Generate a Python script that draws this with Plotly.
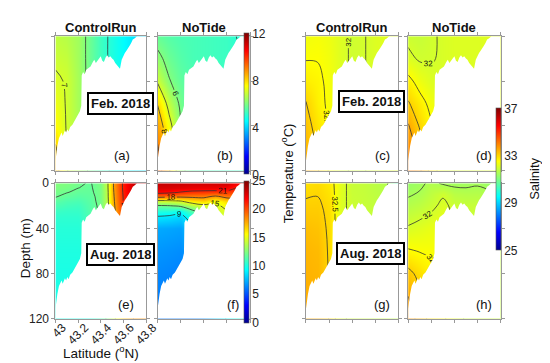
import numpy as np
import plotly.graph_objects as go

W, H = 550, 363
FONT = "Liberation Sans, Arial, sans-serif"

# ---------------- data ----------------
LAT = [43.0, 43.1, 43.2, 43.3, 43.4, 43.5, 43.6, 43.7, 43.8]
LAT_E = [43.0, 43.1, 43.2, 43.3, 43.4, 43.45, 43.5, 43.6, 43.7, 43.8]
DEPTH_C = [0, 20, 40, 60, 80, 100, 120]
DEPTH_F = [0, 4, 8, 12, 16, 20, 25, 30, 40, 60, 80, 120]
DEPTH_H = [0, 10, 20, 40, 60, 80, 100, 120]

LAT_TICKS = [43.0, 43.2, 43.4, 43.6, 43.8]
LAT_TICKTEXT = ["43", "43.2", "43.4", "43.6", "43.8"]
DEPTH_TICKS = [0, 40, 80, 120]
LAT_RANGE = [43.0, 43.8]
DEPTH_RANGE = [0, 120]

# bathymetry along the transect (latitude, bottom depth in m)
BATHY_LAT = [43.0, 43.0085, 43.017, 43.031, 43.045, 43.054, 43.064, 43.074, 43.084, 43.094,
             43.105, 43.116, 43.13, 43.15, 43.173, 43.196, 43.216, 43.228, 43.232, 43.244,
             43.258, 43.272, 43.287, 43.31, 43.33, 43.343, 43.357, 43.37, 43.385, 43.4,
             43.414, 43.428, 43.443, 43.457, 43.471, 43.485, 43.5, 43.513, 43.528, 43.542,
             43.556, 43.57, 43.585, 43.6, 43.613, 43.627, 43.641, 43.655, 43.669, 43.683,
             43.698, 43.712, 43.72]
BATHY_DEPTH = [111, 103, 98, 91, 88, 86, 89, 87, 84, 86,
               83, 85, 81, 79, 75, 71, 67, 62, 35, 32,
               34, 30, 29, 27, 23, 21, 24, 22, 20, 18,
               22, 23, 19, 17, 19, 18, 20, 21, 24, 26,
               27, 29, 21, 17, 15, 13, 10, 8.5, 6, 3,
               2, 0.5, 0]

# profiles: one list per latitude (values at the depth levels)
TEMP_FEB_CTRL = [   # (a) LAT x DEPTH_C
    [6.75, 6.9, 7.1, 7.3, 7.55, 8.1, 8.4],
    [6.65, 6.8, 6.95, 6.95, 6.95, 6.98, 7.05],
    [6.4, 6.4, 6.45, 6.45, 6.5, 6.5, 6.5],
    [5.8, 5.8, 5.8, 5.85, 5.9, 5.9, 5.9],
    [5.25, 5.25, 5.3, 5.3, 5.3, 5.3, 5.3],
    [4.85, 4.85, 4.9, 4.9, 4.9, 4.9, 4.9],
    [4.5, 4.5, 4.55, 4.55, 4.55, 4.55, 4.55],
    [4.2, 4.25, 4.3, 4.3, 4.3, 4.3, 4.3],
    [4.0, 4.05, 4.1, 4.1, 4.1, 4.1, 4.1],
]
TEMP_FEB_NOTIDE = [  # (b)
    [5.7, 6.2, 6.9, 7.95, 8.6, 9.1, 9.5],
    [5.5, 5.75, 6.05, 6.7, 7.3, 7.8, 8.1],
    [5.4, 5.5, 5.65, 5.85, 6.05, 6.2, 6.3],
    [5.35, 5.35, 5.4, 5.45, 5.5, 5.5, 5.5],
    [5.3, 5.3, 5.3, 5.3, 5.3, 5.3, 5.3],
    [5.25, 5.25, 5.25, 5.25, 5.25, 5.25, 5.25],
    [5.2, 5.2, 5.2, 5.2, 5.2, 5.2, 5.2],
    [4.95, 5.1, 5.15, 5.15, 5.15, 5.15, 5.15],
    [4.8, 5.0, 5.1, 5.1, 5.1, 5.1, 5.1],
]
SAL_FEB_CTRL = [    # (c)
    [32.35, 32.48, 32.7, 33.03, 33.2, 33.35, 33.5],
    [32.4, 32.48, 32.6, 32.65, 32.8, 32.95, 33.05],
    [32.3, 32.35, 32.4, 32.42, 32.45, 32.45, 32.45],
    [32.1, 32.1, 32.1, 32.1, 32.1, 32.1, 32.1],
    [31.95, 31.95, 31.95, 31.95, 31.95, 31.95, 31.95],
    [31.98, 31.98, 31.98, 31.98, 31.98, 31.98, 31.98],
    [32.1, 32.1, 32.1, 32.1, 32.1, 32.1, 32.1],
    [32.15, 32.15, 32.15, 32.15, 32.15, 32.15, 32.15],
    [32.2, 32.2, 32.2, 32.2, 32.2, 32.2, 32.2],
]
SAL_FEB_NOTIDE = [  # (d)
    [31.9, 32.1, 32.65, 33.05, 33.55, 33.85, 34.1],
    [31.85, 31.95, 32.3, 32.7, 32.95, 33.3, 33.6],
    [31.95, 31.97, 32.1, 32.35, 32.55, 32.7, 32.8],
    [32.05, 32.05, 32.1, 32.15, 32.2, 32.2, 32.2],
    [32.1, 32.1, 32.1, 32.1, 32.1, 32.1, 32.1],
    [32.1, 32.1, 32.1, 32.1, 32.1, 32.1, 32.1],
    [32.1, 32.1, 32.1, 32.1, 32.1, 32.1, 32.1],
    [32.15, 32.15, 32.15, 32.15, 32.15, 32.15, 32.15],
    [32.2, 32.2, 32.2, 32.2, 32.2, 32.2, 32.2],
]
TEMP_AUG_CTRL = [   # (e) LAT_E x DEPTH_F
    [12.6, 12.45, 12.25, 12.05, 11.6, 11.2, 10.8, 10.5, 10.3, 10.1, 10.0, 9.9],
    [12.5, 12.3, 12.05, 11.7, 11.3, 11.0, 10.7, 10.5, 10.3, 10.1, 10.0, 9.9],
    [12.2, 12.02, 11.8, 11.5, 11.2, 10.9, 10.7, 10.5, 10.3, 10.1, 10.0, 9.9],
    [11.9, 11.85, 11.8, 11.7, 11.6, 11.5, 11.4, 11.3, 11.0, 10.5, 10.2, 10.0],
    [12.4, 12.4, 12.35, 12.3, 12.3, 12.25, 12.2, 12.1, 12.05, 11.8, 11.5, 11.0],
    [14.0, 14.0, 13.9, 13.9, 13.8, 13.8, 13.7, 13.6, 13.5, 13.0, 12.5, 12.1],
    [17.5, 17.5, 17.4, 17.3, 17.2, 17.1, 17.0, 16.8, 16.5, 16.1, 15.2, 14.1],
    [21.3, 21.3, 21.2, 21.1, 21.05, 20.8, 20.5, 20.2, 20.1, 19.1, 18.1, 17.1],
    [23.3, 23.2, 23.1, 22.8, 22.5, 22.2, 22.1, 21.5, 21.2, 20.1, 19.1, 18.1],
    [23.5, 23.4, 23.3, 23.1, 22.8, 22.5, 22.3, 21.8, 21.4, 20.3, 19.3, 18.3],
]
TEMP_AUG_NOTIDE = [  # (f) LAT x DEPTH_F
    [23.3, 22.8, 21.8, 18.5, 14.3, 11.8, 10.2, 8.8, 7.3, 6.8, 6.5, 6.0],
    [23.3, 22.7, 21.5, 18.3, 14.4, 11.9, 10.1, 8.6, 7.2, 6.7, 6.4, 6.0],
    [23.2, 22.5, 20.9, 18.2, 14.8, 12.3, 9.6, 8.3, 7.1, 6.6, 6.3, 6.0],
    [23.0, 22.3, 20.5, 18.3, 16.1, 13.5, 11.5, 10.1, 8.5, 7.1, 6.5, 6.1],
    [23.0, 22.2, 20.4, 18.4, 16.5, 14.5, 13.1, 12.1, 10.1, 8.1, 7.1, 6.5],
    [23.0, 22.2, 20.3, 17.5, 15.3, 14.6, 14.4, 14.1, 13.1, 11.1, 9.1, 8.1],
    [23.0, 22.0, 20.5, 18.5, 16.5, 15.5, 14.9, 14.5, 14.1, 12.1, 10.1, 9.1],
    [21.8, 20.8, 19.8, 18.5, 17.0, 16.1, 15.5, 15.1, 14.5, 13.1, 11.1, 10.1],
    [21.5, 20.5, 19.5, 18.4, 17.0, 16.1, 15.5, 15.1, 14.5, 13.1, 11.1, 10.1],
]
SAL_AUG_CTRL = [    # (g) LAT x DEPTH_C
    [32.85, 33.07, 33.25, 33.35, 33.4, 33.45, 33.5],
    [32.9, 33.07, 33.2, 33.3, 33.35, 33.4, 33.4],
    [32.75, 32.9, 32.93, 32.95, 32.97, 32.98, 32.98],
    [32.15, 32.1, 32.1, 32.1, 32.1, 32.1, 32.1],
    [31.85, 31.9, 31.9, 31.9, 31.9, 31.9, 31.9],
    [31.8, 31.85, 31.85, 31.85, 31.85, 31.85, 31.85],
    [31.7, 31.8, 31.8, 31.8, 31.8, 31.8, 31.8],
    [31.6, 31.7, 31.75, 31.75, 31.75, 31.75, 31.75],
    [30.0, 31.0, 31.6, 31.7, 31.7, 31.7, 31.7],
]
SAL_AUG_NOTIDE = [  # (h) LAT x DEPTH_H
    [31.3, 31.45, 31.65, 32.05, 32.55, 33.15, 33.5, 33.8],
    [31.4, 31.55, 31.75, 32.15, 32.48, 32.85, 33.1, 33.3],
    [31.6, 31.75, 31.9, 32.25, 32.45, 32.6, 32.7, 32.8],
    [31.45, 31.95, 32.1, 32.3, 32.4, 32.48, 32.55, 32.6],
    [31.4, 31.7, 31.9, 31.98, 32.1, 32.2, 32.2, 32.2],
    [31.4, 31.65, 31.85, 31.9, 31.95, 31.95, 31.95, 31.95],
    [31.45, 31.65, 31.85, 31.9, 31.95, 31.95, 31.95, 31.95],
    [31.3, 31.6, 31.8, 31.9, 31.9, 31.9, 31.9, 31.9],
    [30.5, 31.0, 31.5, 31.7, 31.8, 31.8, 31.8, 31.8],
]

PANEL_LABELS = ["(a)", "(b)", "(c)", "(d)", "(e)", "(f)", "(g)", "(h)"]
COL_TITLES = ["ControlRun", "NoTide", "ControlRun", "NoTide"]
MONTHS = ["Feb. 2018", "Aug. 2018"]

# ---------------- styling / layout ----------------
JET = [[0.0, "rgb(0,0,143)"], [0.125, "rgb(0,0,255)"], [0.375, "rgb(0,255,255)"],
       [0.625, "rgb(255,255,0)"], [0.875, "rgb(255,0,0)"], [1.0, "rgb(128,0,0)"]]

CB_SHIFT = 11  # plotly draws the colorbar this many px right of its anchor
SCALES = {
    "tfeb": dict(zmin=0, zmax=12, levels=(5, 9, 1), ticks=[0, 4, 8, 12],
                 cb=dict(x=250, y0=22, y1=163)),
    "taug": dict(zmin=0, zmax=25, levels=(9, 21, 3), ticks=[0, 5, 10, 15, 20, 25],
                 cb=dict(x=250, y0=175, y1=317)),
    "sal": dict(zmin=25, zmax=37, levels=(31.5, 33.5, 0.5), ticks=[25, 29, 33, 37],
                cb=dict(x=511, y0=100, y1=242)),
}

# (data, lats, depths, scale, box px (x0, x1, y0, y1), label position px)
PANELS = [
    (TEMP_FEB_CTRL, LAT, DEPTH_C, "tfeb", (43, 137, 22, 162), (112, 146)),
    (TEMP_FEB_NOTIDE, LAT, DEPTH_C, "tfeb", (149, 245, 22, 162), (219, 146)),
    (SAL_FEB_CTRL, LAT, DEPTH_C, "sal", (303, 399, 22, 162), (382, 146)),
    (SAL_FEB_NOTIDE, LAT, DEPTH_C, "sal", (409, 505, 22, 162), (488, 146)),
    (TEMP_AUG_CTRL, LAT_E, DEPTH_F, "taug", (43, 137, 175, 316), (116, 301)),
    (TEMP_AUG_NOTIDE, LAT, DEPTH_F, "taug", (149, 245, 175, 316), (227, 301)),
    (SAL_AUG_CTRL, LAT, DEPTH_C, "sal", (303, 399, 175, 316), (382, 301)),
    (SAL_AUG_NOTIDE, LAT, DEPTH_H, "sal", (409, 505, 175, 316), (488, 301)),
]

def px(x):
    return x / W

def py(y):
    return 1 - y / H

fig = go.Figure()
shown = set()
mask_x = BATHY_LAT + [LAT_RANGE[1], LAT_RANGE[1], LAT_RANGE[0]]
mask_y = BATHY_DEPTH + [DEPTH_RANGE[0], DEPTH_RANGE[1], DEPTH_RANGE[1]]

layout_axes = {}
for i, (cols, lats, deps, sk, box, lab) in enumerate(PANELS):
    n = i + 1
    xs = "x" if n == 1 else f"x{n}"
    ys = "y" if n == 1 else f"y{n}"
    sc = SCALES[sk]
    z = np.array(cols, dtype=float).T.tolist()
    show = sk not in shown
    shown.add(sk)
    cbd = sc["cb"]
    fig.add_trace(go.Heatmap(
        x=lats, y=deps, z=z, zsmooth="best", colorscale=JET,
        zmin=sc["zmin"], zmax=sc["zmax"], showscale=show, hoverinfo="skip",
        xaxis=xs, yaxis=ys,
        colorbar=dict(x=px(cbd["x"] - CB_SHIFT), xanchor="left",
                      y=py((cbd["y0"] + cbd["y1"]) / 2), yanchor="middle",
                      len=cbd["y1"] - cbd["y0"], lenmode="pixels",
                      thickness=5, thicknessmode="pixels", xpad=0, ypad=0,
                      outlinewidth=0.6, outlinecolor="#555", ticks="",
                      tickvals=sc["ticks"],
                      tickfont=dict(size=12, color="#222", family=FONT)),
    ))
    s, e, d = sc["levels"]
    fig.add_trace(go.Contour(
        x=lats, y=deps, z=z, autocontour=False,
        contours=dict(start=s, end=e, size=d, coloring="none", showlabels=True,
                      labelfont=dict(size=8, color="#111", family=FONT)),
        line=dict(color="#333", width=0.8), showscale=False, hoverinfo="skip",
        xaxis=xs, yaxis=ys,
    ))
    fig.add_trace(go.Scatter(
        x=mask_x, y=mask_y, fill="toself", fillcolor="white", mode="lines",
        line=dict(width=0, color="white"), hoverinfo="skip", xaxis=xs, yaxis=ys,
    ))
    x0, x1, y0, y1 = box
    common = dict(showline=True, linecolor="#999", linewidth=1, mirror="ticks",
                  ticks="outside", ticklen=3, tickcolor="#999", showgrid=False,
                  zeroline=False, tickfont=dict(size=12, color="#222", family=FONT))
    layout_axes["xaxis" if n == 1 else f"xaxis{n}"] = dict(
        domain=[px(x0), px(x1)], range=LAT_RANGE, tickvals=LAT_TICKS,
        ticktext=LAT_TICKTEXT, tickangle=-45, showticklabels=(n == 5),
        ticklabelshift=7, ticklabelstandoff=-7,
        anchor=ys, **common)
    layout_axes["yaxis" if n == 1 else f"yaxis{n}"] = dict(
        domain=[py(y1), py(y0)], range=[DEPTH_RANGE[1], DEPTH_RANGE[0]],
        tickvals=DEPTH_TICKS, showticklabels=(n == 5), anchor=xs, **common)

annotations = []

def ann(text, x, y, size=13, bold=False, angle=0, **kw):
    t = f"<b>{text}</b>" if bold else text
    d = dict(text=t, x=px(x), y=py(y), xref="paper", yref="paper", showarrow=False,
             textangle=angle, font=dict(size=size, color="#111", family=FONT),
             xanchor="center", yanchor="middle")
    d.update(kw)
    annotations.append(d)

for (cols, lats, deps, sk, box, lab), t in zip(PANELS, PANEL_LABELS):
    ann(t, lab[0], lab[1], size=13)

for t, xc in zip(COL_TITLES, [90, 197, 351, 457]):
    ann(t, xc, 12.5, size=13, bold=True)

box_style = dict(bordercolor="black", borderwidth=2, borderpad=2, bgcolor="white")
ann(MONTHS[0], 111, 92.5, size=13, bold=True, **box_style)
ann(MONTHS[0], 371, 90, size=13, bold=True, **box_style)
ann(MONTHS[1], 110, 249.5, size=13, bold=True, **box_style)
ann(MONTHS[1], 370, 248.5, size=13, bold=True, **box_style)

ann("Depth (m)", 12, 243, size=13.5, angle=-90)
ann("Latitude (<sup>o</sup>N)", 90, 350, size=13.5)
ann("Temperature (<sup>o</sup>C)", 283, 165, size=13, angle=-90)
ann("Salinity", 540, 170, size=13, angle=-90)

fig.update_layout(
    width=W, height=H, margin=dict(l=0, r=0, t=0, b=0),
    paper_bgcolor="white", plot_bgcolor="white", showlegend=False,
    annotations=annotations, font=dict(family=FONT),
    **layout_axes,
)

fig.write_html("out.html")
